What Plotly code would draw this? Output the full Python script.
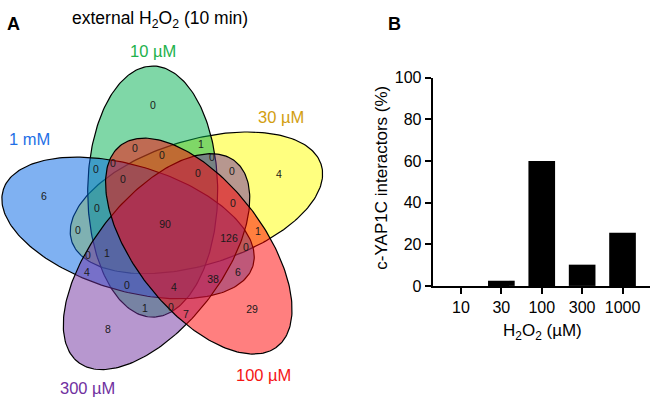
import numpy as np
import plotly.graph_objects as go

# ---------------- data ----------------
set_names = ["10 µM", "30 µM", "100 µM", "300 µM", "1 mM"]
region_counts = [0, 4, 6, 8, 29, 90, 1, 0, 0, 0, 0, 0, 0, 0, 0, 0,
                 0, 0, 1, 126, 0, 0, 1, 4, 0, 4, 38, 6, 1, 0, 7]
bar_categories = ["10", "30", "100", "300", "1000"]
bar_values = [0, 2.5, 60, 10.2, 25.5]
y_ticks = [0, 20, 40, 60, 80, 100]

# ---------------- layout / style constants ----------------
W, H = 653, 408
FONT = "Liberation Sans, Arial, sans-serif"

# Venn geometry (pixel space), 5-fold rotational symmetry
VC = (166.5, 227.5)      # diagram centre
VD = 38.5                # distance of ellipse centres from diagram centre
VPHI = 111.0             # offset angle of first ellipse (deg, math convention)
VAX = 90.0               # major-axis angle of first ellipse
VA, VB = 131.0, 65.0     # semi axes

geo_index = {"10 µM": 0, "30 µM": 1, "100 µM": 2, "300 µM": 3, "1 mM": 4}
fill_colors = {"10 µM": (0, 176, 80), "30 µM": (255, 255, 0),
               "100 µM": (255, 0, 0), "300 µM": (112, 48, 160),
               "1 mM": (0, 100, 230)}
label_colors = {"10 µM": "#22B14C", "30 µM": "#D29E10", "100 µM": "#F51515",
                "300 µM": "#7030A0", "1 mM": "#1F6FE6"}
label_pos = {"10 µM": (153, 45), "30 µM": (281, 114), "1 mM": (29, 137),
             "300 µM": (87, 397), "100 µM": (263, 383)}
draw_order = ["30 µM", "10 µM", "1 mM", "300 µM", "100 µM"]

region_pos = [(153, 103), (279, 175), (44, 198), (108, 336), (252, 316),
              (165, 227), (201, 143), (135, 147), (162, 155), (113, 163),
              (212, 157), (96, 169), (123, 180), (198, 174), (232, 172),
              (97, 210), (233, 205), (78, 233), (258, 234), (229, 241),
              (246, 251), (88, 259), (107, 257), (87, 277), (127, 290),
              (174, 293), (213, 284), (238, 277), (145, 314), (171, 313),
              (186, 321)]

fig = go.Figure()

t = np.linspace(0, 2 * np.pi, 241)
for name in draw_order:
    k = geo_index[name]
    rot = -72.0 * k
    phi = np.radians(VPHI + rot)
    al = np.radians(VAX + rot)
    ex = VC[0] + VD * np.cos(phi)
    ey = VC[1] - VD * np.sin(phi)
    xs = ex + VA * np.cos(t) * np.cos(al) - VB * np.sin(t) * np.sin(al)
    ys = ey - (VA * np.cos(t) * np.sin(al) + VB * np.sin(t) * np.cos(al))
    r, g, b = fill_colors[name]
    fig.add_trace(go.Scatter(
        x=xs, y=ys, mode="lines", fill="toself",
        fillcolor=f"rgba({r},{g},{b},0.5)",
        line=dict(color="black", width=1.2),
        hoverinfo="skip", showlegend=False, xaxis="x", yaxis="y"))

fig.add_trace(go.Scatter(
    x=[p[0] for p in region_pos], y=[p[1] for p in region_pos],
    mode="text", text=[str(c) for c in region_counts],
    textfont=dict(family=FONT, size=10.5, color="#1a1a1a"),
    textposition="middle center", hoverinfo="skip", showlegend=False,
    xaxis="x", yaxis="y"))

annotations = []
for name in set_names:
    x, y = label_pos[name]
    annotations.append(dict(x=x, y=y, xref="x", yref="y", text=name,
                            showarrow=False, xanchor="center", yanchor="middle",
                            font=dict(family=FONT, size=16.5, color=label_colors[name])))

annotations += [
    dict(x=160, y=12, xref="x", yref="y",
         text="external H<sub>2</sub>O<sub>2</sub> (10 min)", showarrow=False,
         xanchor="center", yanchor="middle",
         font=dict(family=FONT, size=17.5, color="black")),
    dict(x=13, y=17, xref="x", yref="y", text="<b>A</b>", showarrow=False,
         xanchor="center", yanchor="middle",
         font=dict(family=FONT, size=18, color="black")),
    dict(x=394, y=17, xref="x", yref="y", text="<b>B</b>", showarrow=False,
         xanchor="center", yanchor="middle",
         font=dict(family=FONT, size=18, color="black")),
    dict(x=542, y=338, xref="x", yref="y", text="H<sub>2</sub>O<sub>2</sub> (µM)",
         showarrow=False, xanchor="center", yanchor="middle",
         font=dict(family=FONT, size=17, color="black")),
    dict(x=382, y=177, xref="x", yref="y", text="c-YAP1C interactors (%)",
         showarrow=False, xanchor="center", yanchor="middle", textangle=-90,
         font=dict(family=FONT, size=17, color="black")),
]

# ---------------- bar chart ----------------
fig.add_trace(go.Bar(x=bar_categories, y=bar_values, width=0.66,
                     marker=dict(color="black", line=dict(width=0)),
                     xaxis="x2", yaxis="y2", showlegend=False, hoverinfo="skip"))

ax_left, ax_right = 432.7, 650.0
y0_px, y100_px = 290.0, 72.7

fig.update_layout(
    width=W, height=H, margin=dict(l=0, r=0, t=0, b=0),
    paper_bgcolor="white", plot_bgcolor="rgba(0,0,0,0)",
    xaxis=dict(domain=[0, 1], range=[0, W], visible=False, fixedrange=True),
    yaxis=dict(domain=[0, 1], range=[H, 0], visible=False, fixedrange=True),
    xaxis2=dict(domain=[ax_left / W, ax_right / W], range=[-0.7, 4.68],
                type="category", anchor="y2", showline=True, linecolor="black",
                linewidth=2, ticks="outside", ticklen=6, tickwidth=2,
                tickcolor="black", showgrid=False, zeroline=False,
                tickfont=dict(family=FONT, size=16, color="black")),
    yaxis2=dict(domain=[1 - y0_px / H, 1 - y100_px / H], range=[0, 100],
                anchor="x2", showline=True, linecolor="black", linewidth=2,
                ticks="outside", ticklen=6, tickwidth=2, tickcolor="black",
                tickvals=y_ticks, showgrid=False, zeroline=False,
                tickfont=dict(family=FONT, size=16, color="black")),
    annotations=annotations,
)

fig.write_html("out.html", config={"responsive": False, "displayModeBar": False},
               post_script="document.body.style.margin='0';document.body.style.overflow='hidden';")
